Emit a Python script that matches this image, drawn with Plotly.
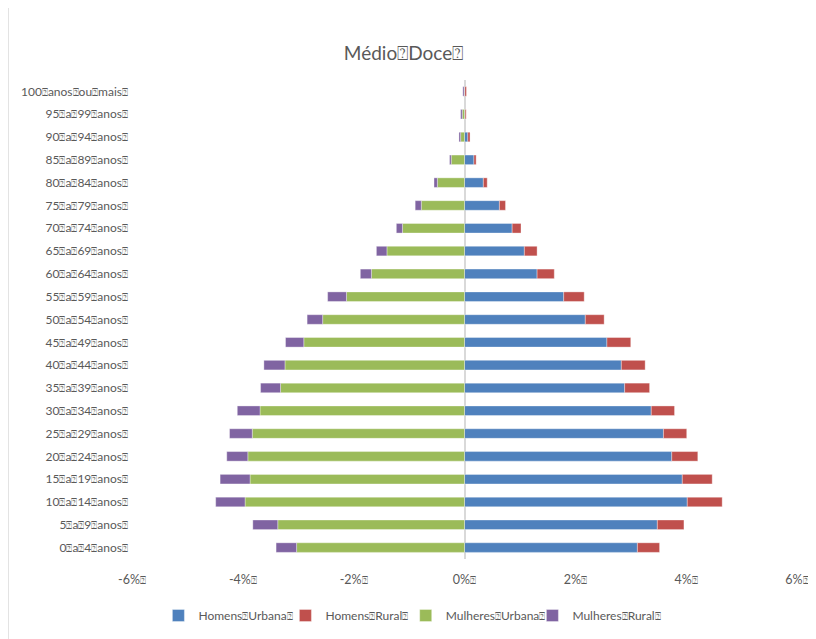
import plotly.graph_objects as go

Q = "\u2370"  # box glyph shown in the reference between words
B = f'<span style="font-size:10px">{Q}</span>'
BL = f'<span style="font-size:10px">{Q}</span>'

categories = [
    f"0{B}a{B}4{B}anos{B}", f"5{B}a{B}9{B}anos{B}", f"10{B}a{B}14{B}anos{B}",
    f"15{B}a{B}19{B}anos{B}", f"20{B}a{B}24{B}anos{B}", f"25{B}a{B}29{B}anos{B}",
    f"30{B}a{B}34{B}anos{B}", f"35{B}a{B}39{B}anos{B}", f"40{B}a{B}44{B}anos{B}",
    f"45{B}a{B}49{B}anos{B}", f"50{B}a{B}54{B}anos{B}", f"55{B}a{B}59{B}anos{B}",
    f"60{B}a{B}64{B}anos{B}", f"65{B}a{B}69{B}anos{B}", f"70{B}a{B}74{B}anos{B}",
    f"75{B}a{B}79{B}anos{B}", f"80{B}a{B}84{B}anos{B}", f"85{B}a{B}89{B}anos{B}",
    f"90{B}a{B}94{B}anos{B}", f"95{B}a{B}99{B}anos{B}", f"100{B}anos{B}ou{B}mais{B}",
]

homens_urbana = [3.12, 3.48, 4.02, 3.93, 3.74, 3.59, 3.37, 2.89, 2.83, 2.57, 2.18,
                 1.79, 1.31, 1.08, 0.86, 0.63, 0.34, 0.17, 0.06, 0.01, 0.005]
homens_rural = [0.40, 0.48, 0.63, 0.54, 0.47, 0.42, 0.42, 0.45, 0.43, 0.43, 0.34,
                0.37, 0.31, 0.23, 0.16, 0.11, 0.07, 0.04, 0.04, 0.02, 0.03]
mulheres_urbana = [3.03, 3.37, 3.96, 3.87, 3.91, 3.83, 3.69, 3.32, 3.24, 2.90, 2.56,
                   2.13, 1.68, 1.40, 1.12, 0.78, 0.49, 0.24, 0.07, 0.04, 0.005]
mulheres_rural = [0.37, 0.45, 0.53, 0.54, 0.38, 0.41, 0.41, 0.36, 0.38, 0.33, 0.28,
                  0.34, 0.20, 0.19, 0.11, 0.11, 0.06, 0.03, 0.03, 0.03, 0.025]

series_names = [f"Homens{BL}Urbana{BL}", f"Homens{BL}Rural{BL}",
                f"Mulheres{BL}Urbana{BL}", f"Mulheres{BL}Rural{BL}"]
colors = ["#4F81BD", "#C0504D", "#9BBB59", "#8064A2"]

tick_vals = [-6, -4, -2, 0, 2, 4, 6]
tick_text = [f"-6%{BL}", f"-4%{BL}", f"-2%{BL}", f"0%{BL}", f"2%{BL}", f"4%{BL}", f"6%{BL}"]

title_text = f"Médio{Q}Doce{Q}"

FONT = "Lato, 'Open Sans', sans-serif"
TXT = "#595959"

W, H = 808, 631  # page body has an 8px margin

fig = go.Figure()
data = [homens_urbana, homens_rural,
        [-v for v in mulheres_urbana], [-v for v in mulheres_rural]]
legend_ids = ["legend", "legend2", "legend3", "legend4"]
for name, vals, col, lg in zip(series_names, data, colors, legend_ids):
    fig.add_trace(go.Bar(
        y=categories, x=vals, orientation="h", name=name, legend=lg,
        marker=dict(color=col, line=dict(color="rgba(255,255,255,0.35)", width=1)),
    ))

legend_x = [150.4, 277.4, 397.7, 524.4]
legend_common = dict(orientation="h", xref="container", yref="container",
                     xanchor="left", y=(H - 607.5) / H, yanchor="middle",
                     font=dict(family=FONT, size=12, color=TXT), itemwidth=30,
                     bgcolor="rgba(0,0,0,0)")
legends = {lg: dict(legend_common, x=lx / W) for lg, lx in zip(legend_ids, legend_x)}

fig.update_layout(
    barmode="relative",
    bargap=0.58,
    width=W, height=H,
    margin=dict(l=124, r=19, t=72, b=80, autoexpand=False),
    paper_bgcolor="white", plot_bgcolor="white",
    title=dict(text=title_text, x=395.5 / W, xanchor="center", y=1 - 45 / H, yanchor="middle",
               font=dict(family=FONT, size=19, color=TXT)),
    font=dict(family=FONT, size=12, color=TXT),
    showlegend=True,
    xaxis=dict(range=[-6, 6], tickvals=tick_vals, ticktext=tick_text, automargin=False,
               showgrid=False, zeroline=True, zerolinecolor="#D9D9D9", zerolinewidth=2,
               showline=False, ticks="outside", ticklen=9, tickcolor="rgba(0,0,0,0)",
               tickfont=dict(family=FONT, size=12.5, color=TXT), fixedrange=True),
    yaxis=dict(type="category", categoryorder="array", categoryarray=categories,
               range=[-0.5, 20.5], showgrid=False, zeroline=False, showline=False,
               automargin=False, ticks="", ticklabelstandoff=3,
               tickfont=dict(family=FONT, size=12, color=TXT)),
    shapes=[
        dict(type="line", xref="paper", yref="paper", x0=-0.1865, x1=-0.1865, y0=-0.2, y1=1.2,
             line=dict(color="#D9D9D9", width=1.5)),
        dict(type="line", xref="paper", yref="paper", x0=1.0226, x1=1.0226, y0=-0.2, y1=1.2,
             line=dict(color="#D9D9D9", width=1.5)),
    ],
    **legends,
)

fig.write_html("out.html")
